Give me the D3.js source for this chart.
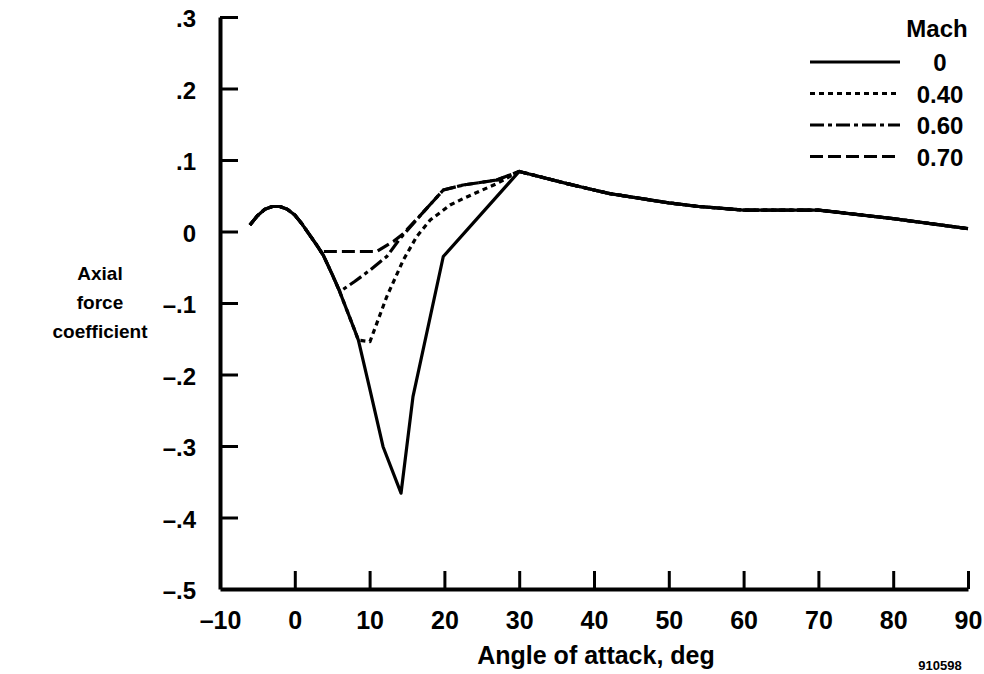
<!DOCTYPE html>
<html>
<head>
<meta charset="utf-8">
<script src="https://cdn.jsdelivr.net/npm/d3@7"></script>
<style>
  html, body { margin: 0; padding: 0; background: #fff; }
  svg { display: block; }
  text { font-family: "Liberation Sans", Arial, Helvetica, sans-serif; font-weight: bold; fill: #000; }
</style>
</head>
<body>
<svg id="chart" width="984" height="674"></svg>
<script>
// ---- Data ----
const xTicks = [-10, 0, 10, 20, 30, 40, 50, 60, 70, 80, 90];
const xTickLabels = ["\u201310", "0", "10", "20", "30", "40", "50", "60", "70", "80", "90"];
const yTicks = [0.3, 0.2, 0.1, 0, -0.1, -0.2, -0.3, -0.4, -0.5];
const yTickLabels = [".3", ".2", ".1", "0", "\u2013.1", "\u2013.2", "\u2013.3", "\u2013.4", "\u2013.5"];

const machLabels = ["0", "0.40", "0.60", "0.70"];

// Shared low-angle part (angle, coefficient)
const lowAlpha = [-6, -5, -4, -3, -2, -1, 0, 1, 2, 3, 3.8];
const lowCoef  = [0.009, 0.022, 0.031, 0.035, 0.035, 0.031, 0.023, 0.010, -0.005, -0.020, -0.033];

// Shared high-angle part
const highAlpha = [30, 36.4, 40, 42.1, 50, 54, 60, 70, 80, 90];
const highCoef  = [0.084, 0.067, 0.058, 0.053, 0.040, 0.035, 0.030, 0.030, 0.018, 0.004];

// Mach 0 stall region
const mach0Alpha = [5, 6, 7, 8, 8.5, 10, 11.8, 14.2, 15.8, 19.85];
const mach0Coef  = [-0.060, -0.084, -0.111, -0.138, -0.152, -0.219, -0.301, -0.366, -0.231, -0.035];

// Mach 0.40 stall region
const mach40Alpha = [5, 6, 7, 8, 8.5, 10.05, 12.3, 14.5, 16.3, 18.1, 20.75, 22.5, 27];
const mach40Coef  = [-0.060, -0.084, -0.111, -0.138, -0.152, -0.154, -0.091, -0.040, -0.007, 0.016, 0.037, 0.046, 0.067];

// Mach 0.60 stall region
const mach60Alpha = [5, 6.04, 8, 10.05, 12.3, 14.06, 17, 19.85, 22.5, 27];
const mach60Coef  = [-0.060, -0.084, -0.070, -0.054, -0.035, -0.010, 0.025, 0.058, 0.065, 0.072];

// Mach 0.70 stall region
const mach70Alpha = [3.81, 6, 8, 10.95, 13.17, 14.5, 17, 19.85, 22.5, 27];
const mach70Coef  = [-0.028, -0.028, -0.028, -0.028, -0.014, -0.003, 0.025, 0.058, 0.065, 0.072];

const dashes = [null, "5,4", "14,4,4,4", "13,5"];

// ---- Build series ----
function build(a, c) {
  const pts = [];
  lowAlpha.forEach((x, i) => { if (x < a[0]) pts.push([x, lowCoef[i]]); });
  a.forEach((x, i) => pts.push([x, c[i]]));
  highAlpha.forEach((x, i) => pts.push([x, highCoef[i]]));
  return pts;
}
const series = [
  build(mach0Alpha, mach0Coef),
  build(mach40Alpha, mach40Coef),
  build(mach60Alpha, mach60Coef),
  build(mach70Alpha, mach70Coef)
];

// ---- Layout ----
const svg = d3.select("#chart");
const x = d3.scaleLinear().domain([-10, 90]).range([220, 968]);
const y = d3.scaleLinear().domain([-0.5, 0.3]).range([589, 17]);

// Axes (inward ticks)
const xAxis = d3.axisBottom(x).tickValues(xTicks).tickSize(-18).tickSizeOuter(0)
  .tickFormat((d, i) => xTickLabels[i]);
const yAxis = d3.axisLeft(y).tickValues(yTicks).tickSize(-18).tickSizeOuter(0)
  .tickFormat((d, i) => yTickLabels[i]);

const gx = svg.append("g").attr("transform", `translate(0,${y(-0.5)})`).call(xAxis);
const gy = svg.append("g").attr("transform", `translate(${x(-10)},0)`).call(yAxis);

[gx, gy].forEach(g => {
  g.select(".domain").attr("stroke", "#000").attr("stroke-width", 4);
  g.selectAll(".tick line").attr("stroke", "#000").attr("stroke-width", 3);
  g.selectAll(".tick text").attr("font-weight", "bold")
    .attr("font-family", "'Liberation Sans', Arial, sans-serif").attr("fill", "#000");
});
gx.selectAll(".tick text").attr("font-size", 25).attr("dy", "0.71em").attr("y", 22);
gy.selectAll(".tick text").attr("font-size", 24).attr("x", -24).attr("dy", "0.4em");
gx.selectAll(".tick").filter(d => d === -10).select("line").remove();
gy.selectAll(".tick").filter(d => d === -0.5).select("line").remove();

// Lines
const line = d3.line().x(d => x(d[0])).y(d => y(d[1]));
series.forEach((s, i) => {
  svg.append("path").datum(s)
    .attr("d", line)
    .attr("fill", "none")
    .attr("stroke", "#000")
    .attr("stroke-width", 3.2)
    .attr("stroke-linejoin", "round")
    .attr("stroke-dasharray", dashes[i]);
});

// Axis titles
svg.append("text").attr("x", 596).attr("y", 664).attr("text-anchor", "middle")
  .attr("font-size", 25).text("Angle of attack, deg");
const yt = svg.append("text").attr("text-anchor", "middle").attr("font-size", 19);
["Axial", "force", "coefficient"].forEach((t, i) => {
  yt.append("tspan").attr("x", 100).attr("y", 280 + i * 29).text(t);
});

// Figure id
svg.append("text").attr("x", 940).attr("y", 670).attr("text-anchor", "middle")
  .attr("font-size", 13).text("910598");

// Legend
const lg = svg.append("g");
lg.append("text").attr("x", 937).attr("y", 37).attr("text-anchor", "middle")
  .attr("font-size", 24).text("Mach");
machLabels.forEach((m, i) => {
  const yy = 62 + i * 31.5;
  lg.append("line").attr("x1", 810).attr("x2", 900).attr("y1", yy).attr("y2", yy)
    .attr("stroke", "#000").attr("stroke-width", 3.2)
    .attr("stroke-dasharray", dashes[i]);
  lg.append("text").attr("x", 940).attr("y", yy + 9).attr("text-anchor", "middle")
    .attr("font-size", 24).text(m);
});
</script>
</body>
</html>
